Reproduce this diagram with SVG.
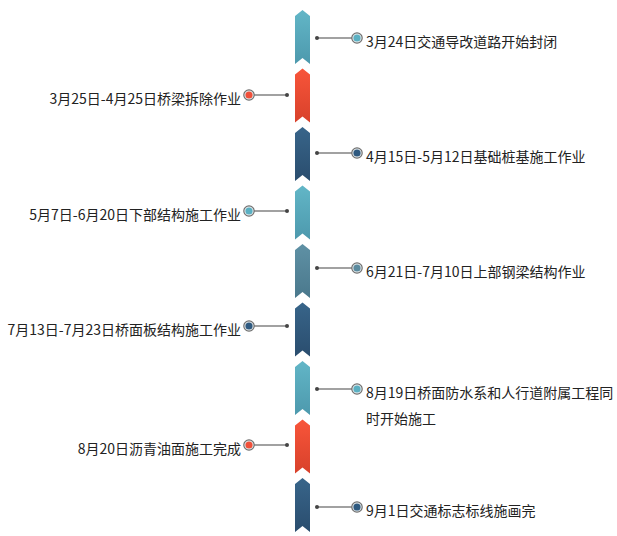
<svg xmlns="http://www.w3.org/2000/svg" width="617" height="536" viewBox="0 0 617 536">
<defs>
<linearGradient id="gT" x1="0" y1="0" x2="0" y2="1"><stop offset="0" stop-color="#62B6C7"/><stop offset="1" stop-color="#4D99AD"/></linearGradient>
<linearGradient id="gR" x1="0" y1="0" x2="0" y2="1"><stop offset="0" stop-color="#F8553A"/><stop offset="1" stop-color="#D8412B"/></linearGradient>
<linearGradient id="gB" x1="0" y1="0" x2="0" y2="1"><stop offset="0" stop-color="#38658A"/><stop offset="1" stop-color="#2A4D6E"/></linearGradient>
<linearGradient id="gG" x1="0" y1="0" x2="0" y2="1"><stop offset="0" stop-color="#5F91A5"/><stop offset="1" stop-color="#4A788C"/></linearGradient>
<path id="seg" d="M295,6 L302.5,0 L310,6 L310,54 L302.5,48 L295,54 Z"/>
</defs>
<style>
text{font-family:"Noto Sans CJK SC","Microsoft YaHei",sans-serif;font-size:14px;fill:#222}
.l{text-anchor:end}
.ln{stroke:#444;stroke-width:1.2;fill:none}
.dot{fill:#444}
.ring{stroke:#6f6f6f;stroke-width:1.2;fill:#e8eef0}
</style>
<rect width="617" height="536" fill="#fff"/>
<g id="bar">
<use href="#seg" y="10" fill="url(#gT)"/>
<use href="#seg" y="68.5" fill="url(#gR)"/>
<use href="#seg" y="127" fill="url(#gB)"/>
<use href="#seg" y="185.5" fill="url(#gT)"/>
<use href="#seg" y="244" fill="url(#gG)"/>
<use href="#seg" y="302.5" fill="url(#gB)"/>
<use href="#seg" y="361" fill="url(#gT)"/>
<use href="#seg" y="419.5" fill="url(#gR)"/>
<use href="#seg" y="478" fill="url(#gB)"/>
<use href="#seg" y="536.5" fill="url(#gT)"/>
</g>
<g id="connectors">
<line class="ln" x1="317" y1="38" x2="352" y2="38"/><circle class="dot" cx="317" cy="38" r="2"/>
<line class="ln" x1="287" y1="95" x2="254" y2="95"/><circle class="dot" cx="287" cy="95" r="2"/>
<line class="ln" x1="317" y1="153" x2="352" y2="153"/><circle class="dot" cx="317" cy="153" r="2"/>
<line class="ln" x1="287" y1="211" x2="254" y2="211"/><circle class="dot" cx="287" cy="211" r="2"/>
<line class="ln" x1="317" y1="268" x2="352" y2="268"/><circle class="dot" cx="317" cy="268" r="2"/>
<line class="ln" x1="287" y1="326" x2="254" y2="326"/><circle class="dot" cx="287" cy="326" r="2"/>
<line class="ln" x1="317" y1="389" x2="352" y2="389"/><circle class="dot" cx="317" cy="389" r="2"/>
<line class="ln" x1="287" y1="445" x2="254" y2="445"/><circle class="dot" cx="287" cy="445" r="2"/>
<line class="ln" x1="317" y1="507" x2="352" y2="507"/><circle class="dot" cx="317" cy="507" r="2"/>
</g>
<g id="n1"><circle class="ring" cx="357" cy="38" r="5.2"/><circle cx="357" cy="38" r="3.6" fill="#5BB0C2"/><text x="366" y="47">3月24日交通导改道路开始封闭</text></g>
<g id="n2"><circle class="ring" cx="249" cy="95" r="5.2"/><circle cx="249" cy="95" r="3.6" fill="#F0503A"/><text class="l" x="241" y="104">3月25日-4月25日桥梁拆除作业</text></g>
<g id="n3"><circle class="ring" cx="357" cy="153" r="5.2"/><circle cx="357" cy="153" r="3.6" fill="#2F5A80"/><text x="366" y="162">4月15日-5月12日基础桩基施工作业</text></g>
<g id="n4"><circle class="ring" cx="249" cy="211" r="5.2"/><circle cx="249" cy="211" r="3.6" fill="#5BB0C2"/><text class="l" x="241" y="220">5月7日-6月20日下部结构施工作业</text></g>
<g id="n5"><circle class="ring" cx="357" cy="268" r="5.2"/><circle cx="357" cy="268" r="3.6" fill="#5A8A9E"/><text x="366" y="277">6月21日-7月10日上部钢梁结构作业</text></g>
<g id="n6"><circle class="ring" cx="249" cy="326" r="5.2"/><circle cx="249" cy="326" r="3.6" fill="#2F5A80"/><text class="l" x="241" y="335">7月13日-7月23日桥面板结构施工作业</text></g>
<g id="n7"><circle class="ring" cx="357" cy="389" r="5.2"/><circle cx="357" cy="389" r="3.6" fill="#5BB0C2"/><text x="366" y="398">8月19日桥面防水系和人行道附属工程同</text><text x="366" y="424">时开始施工</text></g>
<g id="n8"><circle class="ring" cx="249" cy="445" r="5.2"/><circle cx="249" cy="445" r="3.6" fill="#F0503A"/><text class="l" x="241" y="454">8月20日沥青油面施工完成</text></g>
<g id="n9"><circle class="ring" cx="357" cy="507" r="5.2"/><circle cx="357" cy="507" r="3.6" fill="#2F5A80"/><text x="366" y="516">9月1日交通标志标线施画完</text></g>
</svg>
